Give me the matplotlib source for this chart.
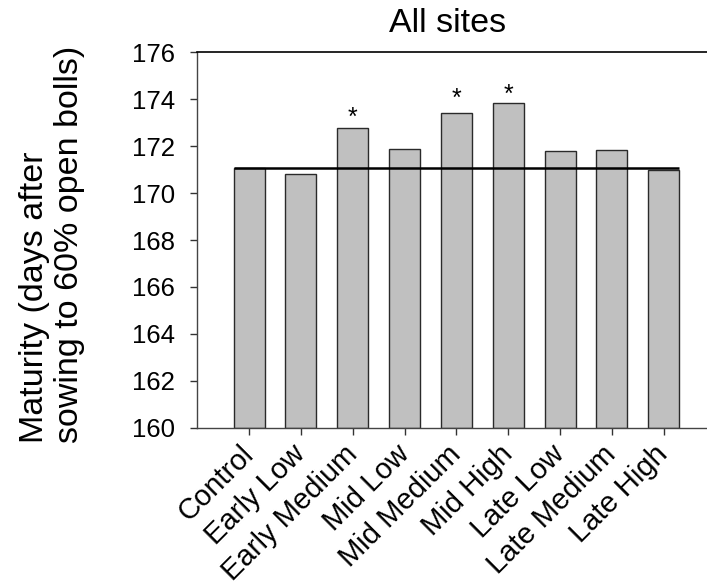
import matplotlib
matplotlib.use("Agg")
import matplotlib.pyplot as plt
import matplotlib.transforms as mtransforms

plt.rcParams['font.family'] = ['Liberation Sans', 'DejaVu Sans']

categories = ["Control", "Early Low", "Early Medium", "Mid Low", "Mid Medium",
              "Mid High", "Late Low", "Late Medium", "Late High"]
values = [171.08, 170.83, 172.79, 171.89, 173.41, 173.85, 171.79, 171.82, 171.00]
control_line = 171.08
star_index = [2, 4, 5]
star_y = [173.47, 174.25, 174.42]
yticks = [160, 162, 164, 166, 168, 170, 172, 174, 176]

fig = plt.figure(figsize=(7.07, 5.85), dpi=100)
ax = fig.add_axes([197.3 / 707, 1 - 427.7 / 585, 1 - 197.3 / 707, (427.7 - 52.3) / 585])

x = list(range(len(categories)))
ax.bar(x, [v - 160 for v in values], bottom=160, width=0.6,
       color='#c0c0c0', edgecolor='#2a2a2a', linewidth=1.0, zorder=2)
ax.hlines(control_line, -0.3, len(categories) - 1 + 0.3, colors='black',
          linewidth=1.8, zorder=3)

for i, sy in zip(star_index, star_y):
    ax.text(i, sy - 0.55, "*", ha='center', va='baseline', fontsize=18, zorder=4)

ax.set_xlim(-1.0, 8.835)
ax.set_ylim(160, 176)
ax.set_yticks(yticks)
ax.set_yticklabels([str(t) for t in yticks], fontsize=18.5)
ax.set_xticks(x)
ax.set_xticklabels(categories, fontsize=21, rotation=45, ha='right',
                   va='center', rotation_mode='anchor')
offset = mtransforms.ScaledTranslation(6 / 100, 0, fig.dpi_scale_trans)
for lab in ax.get_xticklabels():
    lab.set_transform(lab.get_transform() + offset)
ax.tick_params(axis='both', direction='out', length=5, width=1, colors='#333333',
               labelcolor='black')
ax.tick_params(axis='x', pad=11)
ax.tick_params(axis='y', pad=11)

ax.spines['right'].set_visible(False)
for s in ['left', 'bottom']:
    ax.spines[s].set_color('#444444')
    ax.spines[s].set_linewidth(1.0)
ax.spines['top'].set_color('black')
ax.spines['top'].set_linewidth(1.2)

fig.text(448 / 707, 1 - 31.7 / 585, "All sites", ha='center', va='baseline',
         fontsize=24.5)
fig.text(52 / 707, 1 - 443 / 585, "Maturity (days after\nsowing to 60% open bolls)",
         rotation=90, ha='center', va='bottom', multialignment='left',
         fontsize=24.5, linespacing=1.15)

fig.savefig("out.png", dpi=100)
